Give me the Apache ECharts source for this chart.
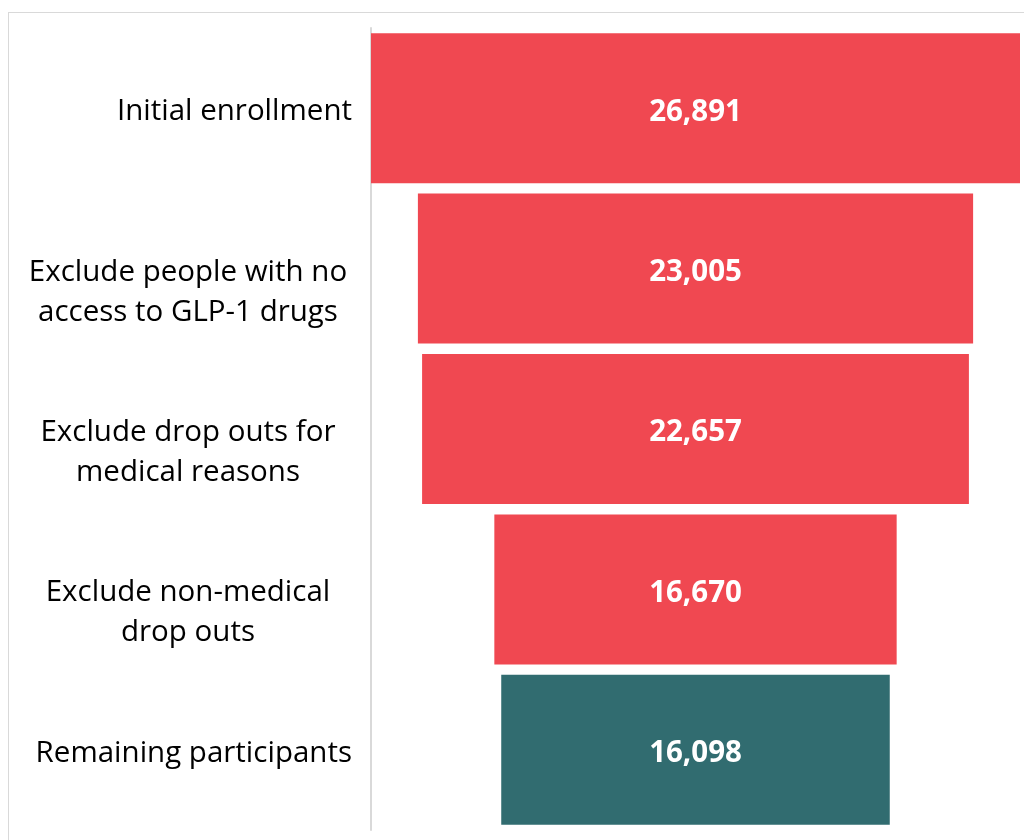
<!DOCTYPE html>
<html>
<head>
<meta charset="utf-8">
<script src="https://cdn.jsdelivr.net/npm/echarts@6/dist/echarts.min.js"></script>
<style>
html, body { margin: 0; padding: 0; background: #fff; }
#frame { position: absolute; left: 8px; top: 12px; width: 1030px; height: 840px;
         border-top: 1px solid #d9d9d9; border-left: 1px solid #d9d9d9; }
#chart { position: absolute; left: 0; top: 0; width: 1024px; height: 840px; }
</style>
</head>
<body>
<div id="frame"></div>
<div id="chart"></div>
<script>
// 各阶段人数
var stages = [
	'Initial enrollment',
	'Exclude people with no\naccess to GLP-1 drugs',
	'Exclude drop outs for\nmedical reasons',
	'Exclude non-medical\ndrop outs',
	'Remaining participants'
];
var counts = [26891, 23005, 22657, 16670, 16098];

var maxCount = Math.max.apply(null, counts);

var chart = echarts.init(document.getElementById('chart'));

// 左侧占位，使柱子居中
var padData = counts.map(function (v) { return (maxCount - v) / 2; });

var barData = counts.map(function (v, i) {
	return {
		value: v,
		itemStyle: { color: i === counts.length - 1 ? '#316c70' : '#f04851' }
	};
});

var option = {
	animation: false,
	grid: { left: 371, right: 4, top: 28, bottom: 10, containLabel: false },
	xAxis: {
		type: 'value',
		min: 0,
		max: maxCount,
		show: false
	},
	yAxis: {
		type: 'category',
		inverse: true,
		data: stages,
		axisLine: { show: true, lineStyle: { color: '#d9d9d9', width: 2 } },
		axisTick: { show: false },
		axisLabel: {
			margin: 19,
			padding: [7, 0, 0, 0],
			fontFamily: 'Open Sans',
			fontSize: 29.5,
			color: '#000',
			lineHeight: 40,
			formatter: function (val) {
				if (val.indexOf('\n') >= 0) {
					// 首行与柱子中心对齐，第二行在下方
					return '{c| }\n' + val.split('\n').map(function (s) { return '{c|' + s + '}'; }).join('\n');
				}
				return val;
			},
			rich: {
				c: { width: 328, align: 'center', fontFamily: 'Open Sans', fontSize: 29.5, lineHeight: 40, color: '#000' }
			}
		}
	},
	series: [
		{
			type: 'bar',
			stack: 'f',
			data: padData,
			itemStyle: { color: 'transparent' },
			silent: true,
			barCategoryGap: '6.5%'
		},
		{
			type: 'bar',
			stack: 'f',
			data: barData,
			barCategoryGap: '6.5%',
			label: {
				show: true,
				position: 'inside',
				offset: [0, 4],
				color: '#fff',
				fontFamily: 'Open Sans',
				fontWeight: 'bold',
				fontSize: 29.5,
				formatter: function (p) { return p.value.toLocaleString('en-US'); }
			}
		}
	]
};
chart.setOption(option);
</script>
</body>
</html>
